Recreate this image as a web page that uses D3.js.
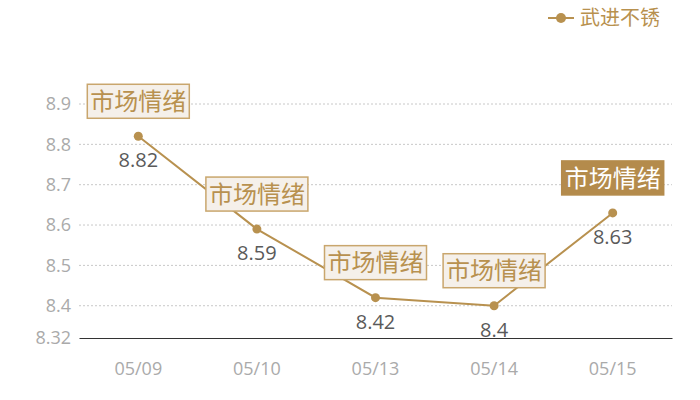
<!DOCTYPE html>
<html>
<head>
<meta charset="utf-8">
<script src="https://cdn.jsdelivr.net/npm/d3@7"></script>
<style>
  body { margin: 0; background: #fff; }
  svg text { font-family: "Noto Sans CJK SC", "Open Sans", sans-serif; }
  svg text.num { font-family: "Open Sans", "Noto Sans CJK SC", sans-serif; }
</style>
</head>
<body>
<div id="chart"></div>
<script>
// data
const categories = ["05/09", "05/10", "05/13", "05/14", "05/15"];
const values = [8.82, 8.59, 8.42, 8.4, 8.63];
const yTicks = [8.32, 8.4, 8.5, 8.6, 8.7, 8.8, 8.9];
const seriesName = "武进不锈";
const tagText = "市场情绪";

const width = 700, height = 400;
const margin = { top: 104, right: 28, bottom: 62, left: 79 };
const gold = "#b8914f";

const svg = d3.select("#chart").append("svg")
    .attr("width", width)
    .attr("height", height);

const x = d3.scaleBand()
    .domain(categories)
    .range([margin.left, width - margin.right]);

const y = d3.scaleLinear()
    .domain([8.32, 8.9])
    .range([height - margin.bottom, margin.top]);

// grid lines
svg.append("g")
    .selectAll("line")
    .data(yTicks.slice(1))
    .enter().append("line")
    .attr("x1", margin.left)
    .attr("x2", width - margin.right)
    .attr("y1", d => y(d))
    .attr("y2", d => y(d))
    .attr("stroke", "#c8c8c8")
    .attr("stroke-dasharray", "2,2");

// y axis labels
const yAxis = svg.append("g")
    .attr("transform", `translate(${margin.left},0)`)
    .call(d3.axisLeft(y).tickValues(yTicks).tickSize(0).tickPadding(8).tickFormat(d => String(d)));
yAxis.select(".domain").remove();
yAxis.selectAll("text")
    .attr("class", "num")
    .attr("fill", "#aaa")
    .style("font-size", "18px");

// x axis
const xAxis = svg.append("g")
    .attr("transform", `translate(0,${height - margin.bottom})`)
    .call(d3.axisBottom(x).tickSize(0).tickPadding(24));
xAxis.select(".domain").attr("stroke", "#333").attr("stroke-width", 1.2);
xAxis.selectAll("text")
    .attr("class", "num")
    .attr("fill", "#aaa")
    .style("font-size", "18px");

const cx = (d, i) => x(categories[i]) + x.bandwidth() / 2;

// line
const line = d3.line()
    .x((d, i) => cx(d, i))
    .y(d => y(d));

svg.append("path")
    .datum(values)
    .attr("d", line)
    .attr("fill", "none")
    .attr("stroke", gold)
    .attr("stroke-width", 2);

svg.selectAll("circle.pt")
    .data(values)
    .enter().append("circle")
    .attr("class", "pt")
    .attr("cx", cx)
    .attr("cy", d => y(d))
    .attr("r", 4.5)
    .attr("fill", gold);

// value labels
svg.selectAll("text.val")
    .data(values)
    .enter().append("text")
    .attr("class", "val num")
    .attr("x", cx)
    .attr("y", d => y(d) + 31)
    .attr("text-anchor", "middle")
    .attr("fill", "#5a5a5a")
    .style("font-size", "20px")
    .text(d => d);

// tag boxes
const boxW = 102, boxH = 34;
const tags = svg.selectAll("g.tag")
    .data(values)
    .enter().append("g")
    .attr("class", "tag")
    .attr("transform", (d, i) => `translate(${cx(d, i)},${y(d) - 35})`);

tags.append("rect")
    .attr("x", -boxW / 2)
    .attr("y", -boxH / 2)
    .attr("width", boxW)
    .attr("height", boxH)
    .attr("fill", (d, i) => i === values.length - 1 ? "#b48b4c" : "#f5f0ea")
    .attr("stroke", (d, i) => i === values.length - 1 ? "#b48b4c" : "#c9a66d")
    .attr("stroke-width", 1.5);

tags.append("text")
    .attr("text-anchor", "middle")
    .attr("dy", "0.36em")
    .attr("fill", (d, i) => i === values.length - 1 ? "#fff" : gold)
    .style("font-size", "24px")
    .text(tagText);

// legend
const lg = svg.append("g").attr("transform", "translate(548,18)");
lg.append("line").attr("x1", 0).attr("x2", 26).attr("stroke", gold).attr("stroke-width", 2);
lg.append("circle").attr("cx", 13).attr("r", 5).attr("fill", gold);
lg.append("text")
    .attr("x", 32)
    .attr("dy", "0.36em")
    .attr("fill", gold)
    .style("font-size", "20px")
    .text(seriesName);
</script>
</body>
</html>
